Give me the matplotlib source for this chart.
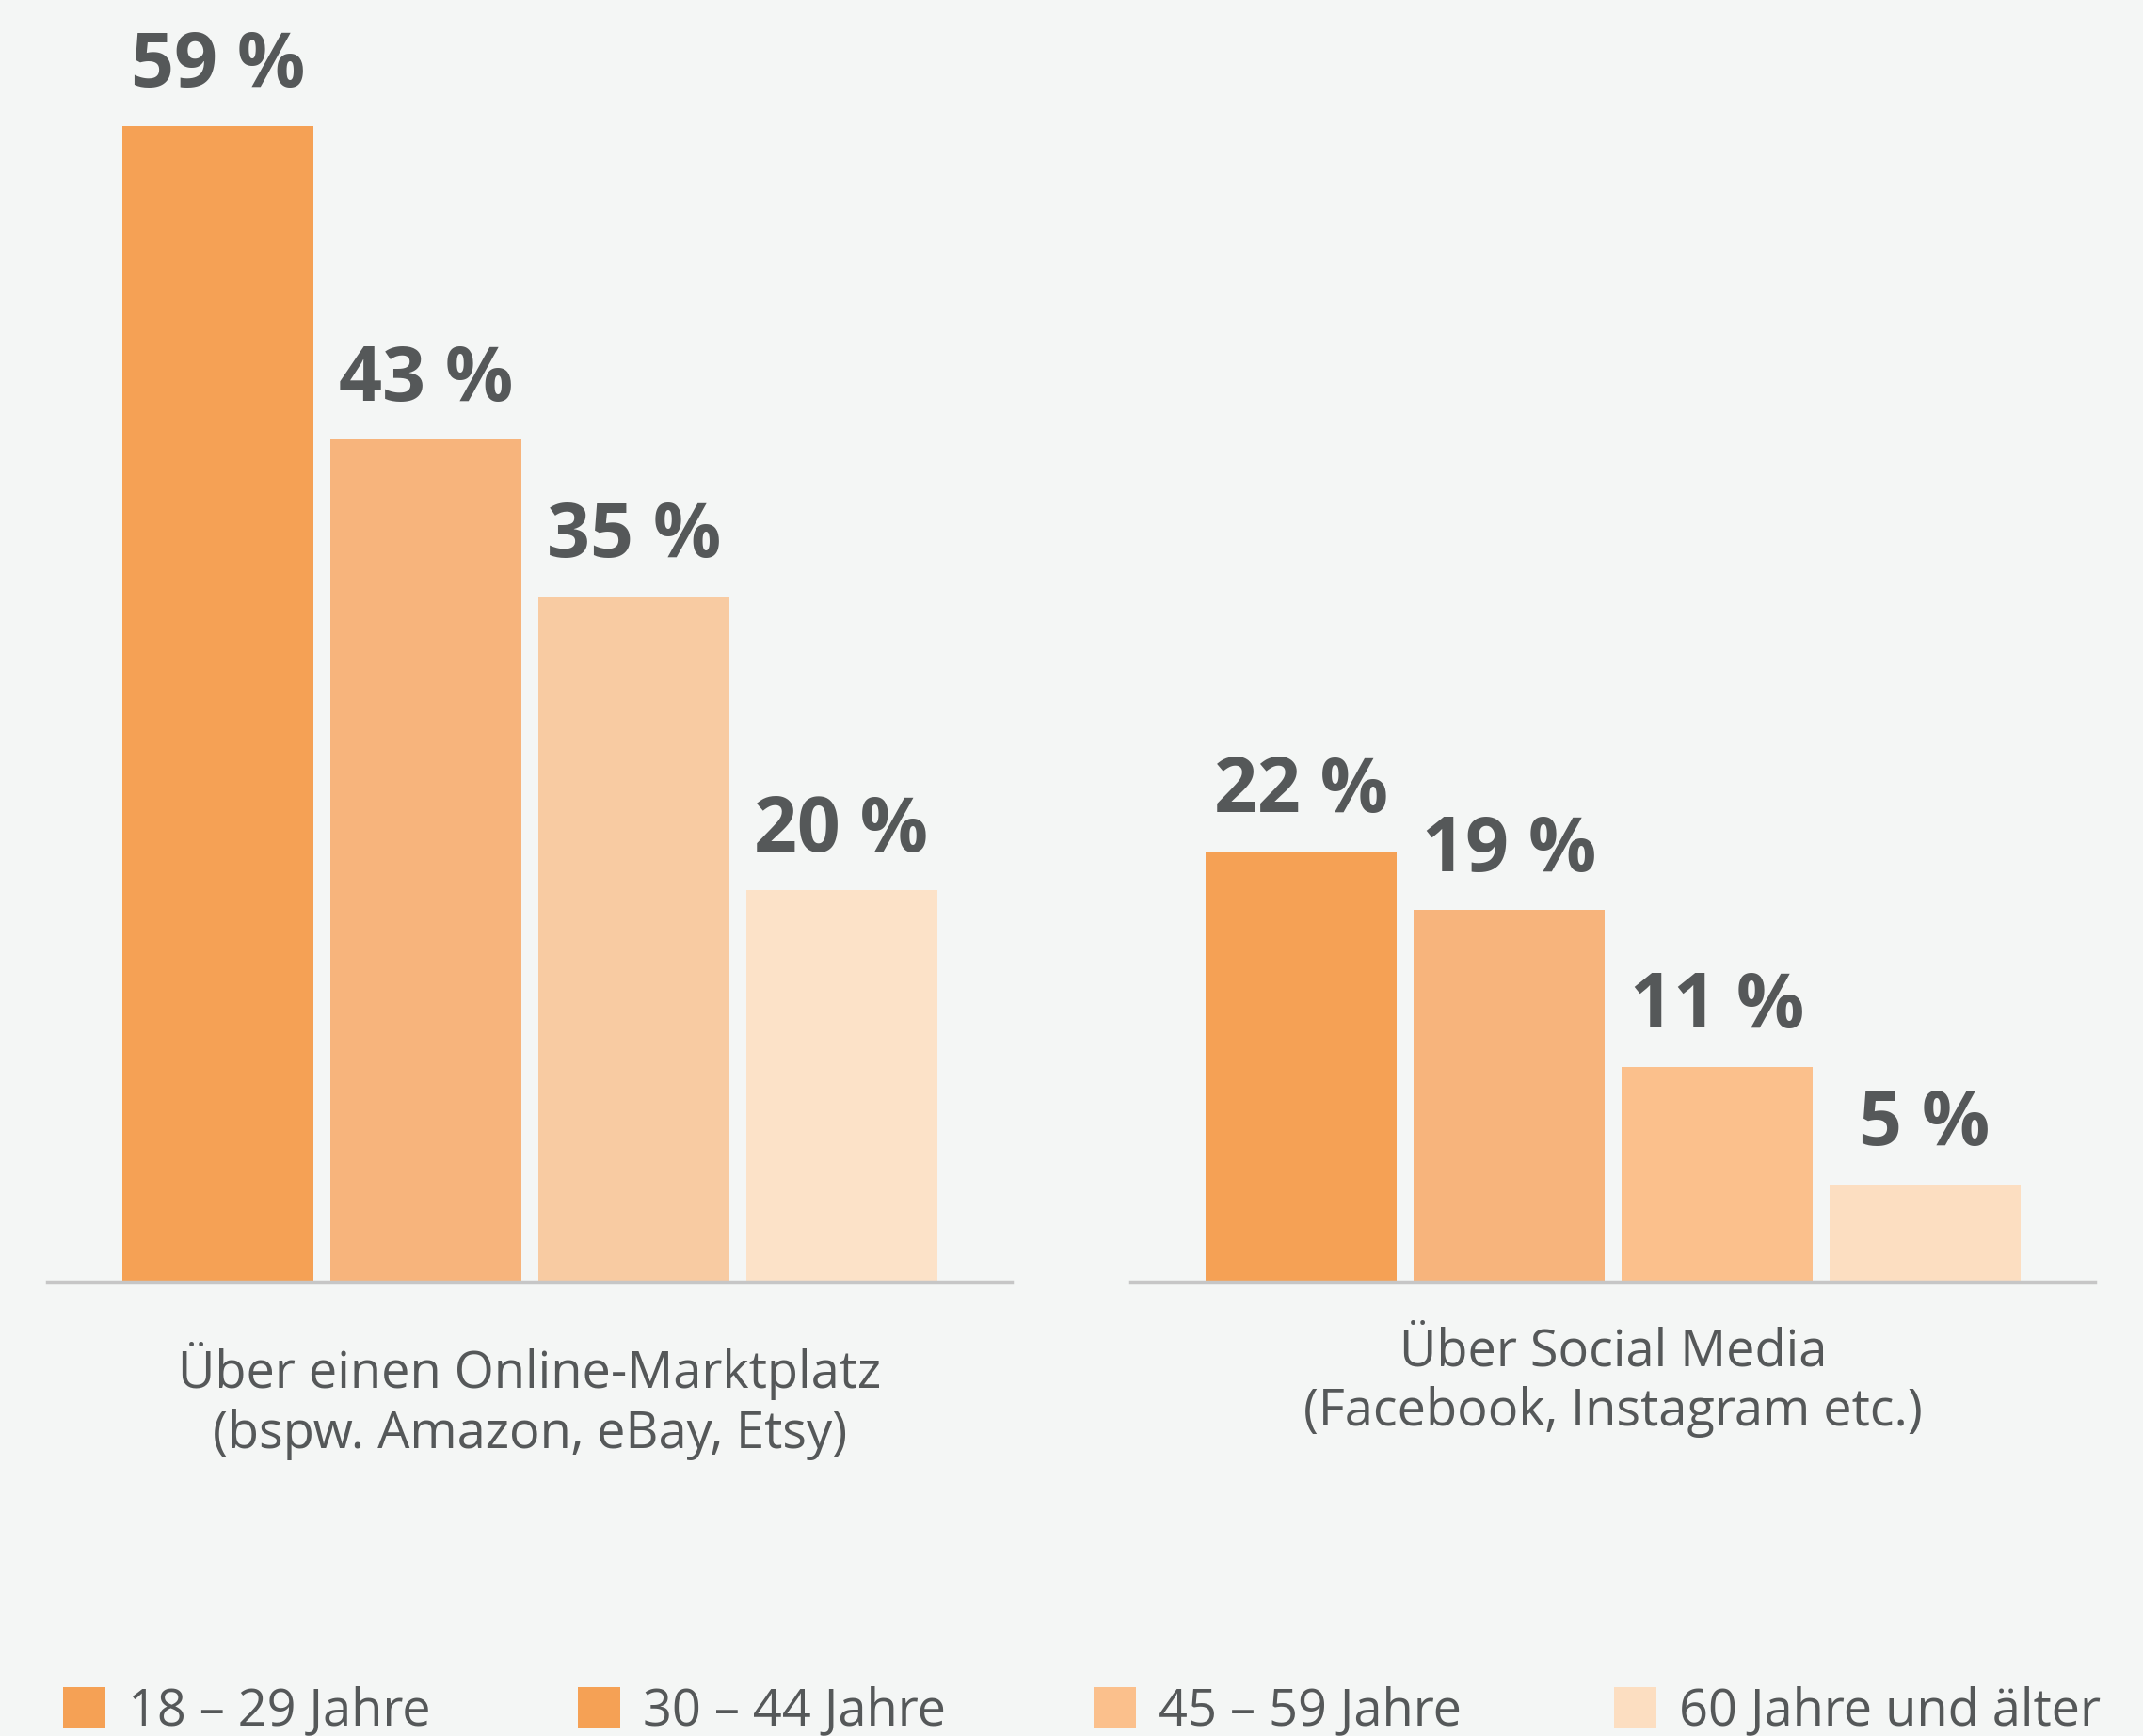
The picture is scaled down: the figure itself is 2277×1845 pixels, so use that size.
import matplotlib.pyplot as plt
from matplotlib import font_manager
from matplotlib.font_manager import FontProperties
from matplotlib.patches import Patch
import matplotlib.transforms as mtransforms


def font_file(fname):
    # pick an installed font file by its file name
    for f in font_manager.fontManager.ttflist:
        if f.fname.endswith(fname):
            return f.fname
    return None


reg = font_file('OpenSans-Regular.ttf')
bold = font_file('OpenSans-Bold.ttf')
fp_text = FontProperties(fname=reg, size=39) if reg else FontProperties(family='Open Sans', size=39)
fp_bold = FontProperties(fname=bold, size=58) if bold else FontProperties(family='Open Sans', weight='bold', size=58)

# data
age_groups = ['18 – 29 Jahre', '30 – 44 Jahre', '45 – 59 Jahre', '60 Jahre und älter']
channels = ['Über einen Online-Marktplatz\n(bspw. Amazon, eBay, Etsy)',
            'Über Social Media\n(Facebook, Instagram etc.)']
marketplace = [59, 43, 35, 20]
social_media = [22, 19, 11, 5]

marketplace_colors = ['#F5A155', '#F7B47C', '#F8CBA2', '#FCE2C8']
social_colors = ['#F5A155', '#F7B47C', '#FBC08C', '#FCDEC1']
legend_colors = ['#F5A155', '#F5A155', '#FBC08C', '#FCDEC1']

bg = '#F4F6F5'
text_color = '#555859'

W, H = 2277, 1845
fig = plt.figure(figsize=(W / 100, H / 100), dpi=100, facecolor=bg)

# two panels, one per sales channel
panels = [(51, marketplace, marketplace_colors, channels[0], 1475),
          (1202, social_media, social_colors, channels[1], 1451)]

for left_px, values, colors, label, baseline_px in panels:
    ax = fig.add_axes([left_px / W, (H - 1363) / H, 1024 / W, 1354 / H])
    ax.set_facecolor(bg)
    x = range(len(values))
    bars = ax.bar(x, values, width=0.92, color=colors, zorder=2)
    ax.set_xlim(-0.82, 3.82)
    ax.set_ylim(0, 65)
    for rect, v in zip(bars, values):
        ax.annotate(f'{v} %', (rect.get_x() + rect.get_width() / 2, v),
                    xytext=(0, 30), textcoords='offset points',
                    ha='center', va='baseline', fontproperties=fp_bold,
                    color=text_color)
    for s in ['top', 'left', 'right']:
        ax.spines[s].set_visible(False)
    ax.spines['bottom'].set_color('#C6C6C6')
    ax.spines['bottom'].set_linewidth(3.2)
    ax.spines['bottom'].set_zorder(3)
    ax.set_xticks([])
    ax.set_yticks([])

    trans = mtransforms.blended_transform_factory(ax.transData, fig.transFigure)
    lines = label.split('\n')
    for i, line in enumerate(lines):
        ax.text(1.5, 1 - (baseline_px + 64 * i) / H, line, transform=trans,
                ha='center', va='baseline', fontproperties=fp_text,
                color=text_color)

# legend along the bottom edge, one entry per column
legend_x = [67, 614, 1162, 1715]
for lx, c, name in zip(legend_x, legend_colors, age_groups):
    leg = fig.legend([Patch(facecolor=c, edgecolor='none')], [name],
                     loc='center left', bbox_to_anchor=(lx / W, 1 - 1819 / H),
                     frameon=False, prop=fp_text,
                     handlelength=0.83, handleheight=0.83, handletextpad=0.44,
                     borderaxespad=0, borderpad=0)
    for t in leg.get_texts():
        t.set_color(text_color)

fig.savefig('out.png', dpi=100, facecolor=bg)
